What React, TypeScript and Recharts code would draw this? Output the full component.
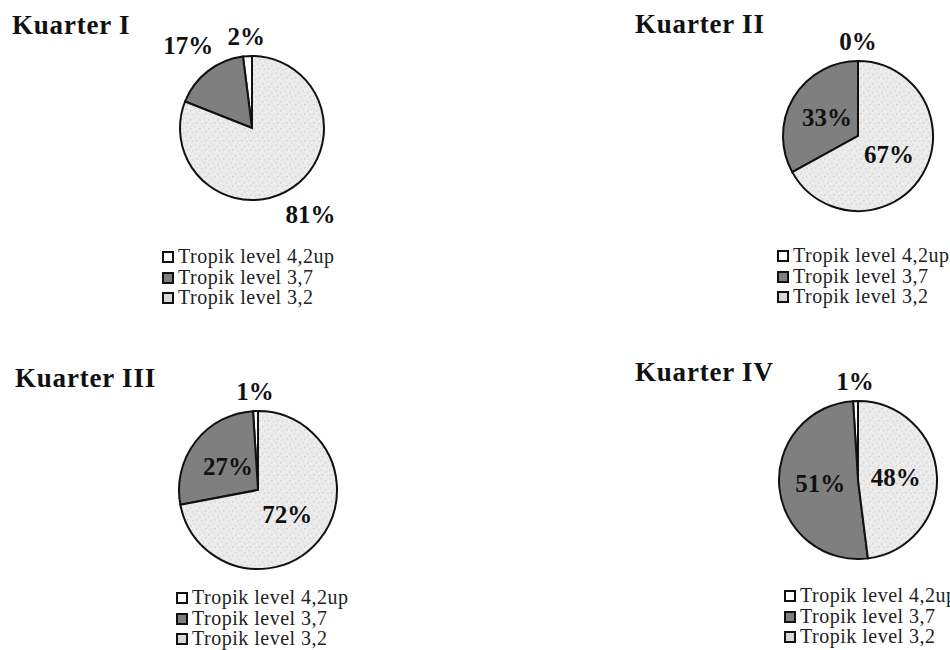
import * as React from 'react';
import { PieChart, Pie, Cell } from 'recharts';

// legend order (also the counter-clockwise drawing order from 12 o'clock)
const categories = ['Tropik level 4,2up', 'Tropik level 3,7', 'Tropik level 3,2'];

const kuarterI = [2, 17, 81];
const kuarterII = [0, 33, 67];
const kuarterIII = [1, 27, 72];
const kuarterIV = [1, 51, 48];

const titles = ['Kuarter I', 'Kuarter II', 'Kuarter III', 'Kuarter IV'];

const SERIF = '"Liberation Serif", "Times New Roman", serif';
const RAD = Math.PI / 180;

// layout of the four panels (px)
const panels = [
  { values: kuarterI, left: 0, top: 0, cx: 252, cy: 128, r: 72, titleX: 12, titleY: 12, legendX: 162, legendY: 246, outside: true },
  { values: kuarterII, left: 475, top: 0, cx: 383, cy: 136, r: 75, titleX: 160, titleY: 11, legendX: 302, legendY: 245, outside: false },
  { values: kuarterIII, left: 0, top: 325, cx: 258, cy: 165, r: 79, titleX: 15, titleY: 40, legendX: 176, legendY: 262, outside: false },
  { values: kuarterIV, left: 475, top: 325, cx: 383, cy: 155, r: 79, titleX: 160, titleY: 34, legendX: 309, legendY: 260, outside: false },
];

const GREY = '#7f7f7f';

function fills(id: string) {
  return ['#ffffff', GREY, `url(#speckle-${id})`];
}

function makeLabel(outside: boolean) {
  return (props: any) => {
    const { cx, cy, midAngle, outerRadius, value, index } = props;
    let R;
    if (value < 5) R = outerRadius + 20;
    else if (outside) R = outerRadius + 32;
    else R = outerRadius * 0.48;
    const x = cx + R * Math.cos(-midAngle * RAD);
    const y = cy + R * Math.sin(-midAngle * RAD);
    return (
      <text
        key={`lbl-${index}`}
        x={x}
        y={y}
        textAnchor="middle"
        dominantBaseline="central"
        fontFamily={SERIF}
        fontWeight="bold"
        fontSize={25}
        fill="#111"
      >
        {value}%
      </text>
    );
  };
}

function LegendBox({ fill }: { fill: string }) {
  return (
    <span
      style={{
        display: 'inline-block',
        width: 8,
        height: 8,
        border: '2px solid #111',
        background: fill,
        marginRight: 4,
        verticalAlign: 'middle',
        position: 'relative',
        top: -1,
      }}
    />
  );
}

function Panel({ p, idx }: { p: (typeof panels)[number]; idx: number }) {
  const data = categories.map((name, i) => ({ name, value: p.values[i] }));
  const id = `q${idx}`;
  const cellFills = fills(id);
  const legendFills = ['#ffffff', GREY, '#d9d9d9'];

  return (
    <div style={{ position: 'absolute', left: p.left, top: p.top, width: 475, height: 325 }}>
      <div
        style={{
          position: 'absolute',
          left: p.titleX,
          top: p.titleY,
          fontFamily: SERIF,
          fontWeight: 'bold',
          fontSize: 27,
          lineHeight: '27px',
          letterSpacing: 0.8,
          color: '#111',
          whiteSpace: 'nowrap',
        }}
      >
        {titles[idx]}
      </div>
      <div style={{ position: 'absolute', left: 0, top: 0 }}>
        <PieChart width={475} height={325} margin={{ top: 0, right: 0, bottom: 0, left: 0 }}>
          <defs>
            <pattern id={`speckle-${id}`} width="9" height="9" patternUnits="userSpaceOnUse">
              <rect width="9" height="9" fill="#ebebeb" />
              <rect x="1" y="2" width="1.5" height="1.5" fill="#d4d4d4" />
              <rect x="5" y="0" width="1.5" height="1.5" fill="#dcdcdc" />
              <rect x="7" y="5" width="1.5" height="1.5" fill="#d2d2d2" />
              <rect x="3" y="6" width="1.5" height="1.5" fill="#dadada" />
              <rect x="0" y="7" width="1" height="1" fill="#f7f7f7" />
              <rect x="4" y="3" width="1" height="1" fill="#f7f7f7" />
            </pattern>
          </defs>
          <Pie
            data={data}
            dataKey="value"
            nameKey="name"
            cx={p.cx}
            cy={p.cy}
            outerRadius={p.r}
            startAngle={90}
            endAngle={450}
            stroke="#111"
            strokeWidth={2}
            labelLine={false}
            label={makeLabel(p.outside)}
            isAnimationActive={false}
          >
            {data.map((d, i) => (
              <Cell key={d.name} fill={cellFills[i]} />
            ))}
          </Pie>
        </PieChart>
      </div>
      <div
        style={{
          position: 'absolute',
          left: p.legendX,
          top: p.legendY,
          fontFamily: SERIF,
          fontSize: 20,
          lineHeight: '20.5px',
          letterSpacing: 0.5,
          color: '#222',
          whiteSpace: 'nowrap',
        }}
      >
        {categories.map((c, i) => (
          <div key={c}>
            <LegendBox fill={legendFills[i]} />
            {c}
          </div>
        ))}
      </div>
    </div>
  );
}

export default function App() {
  return (
    <div style={{ position: 'absolute', left: 0, top: 0, width: 950, height: 650, background: '#fff', overflow: 'hidden' }}>
      {panels.map((p, i) => (
        <Panel key={titles[i]} p={p} idx={i} />
      ))}
    </div>
  );
}
